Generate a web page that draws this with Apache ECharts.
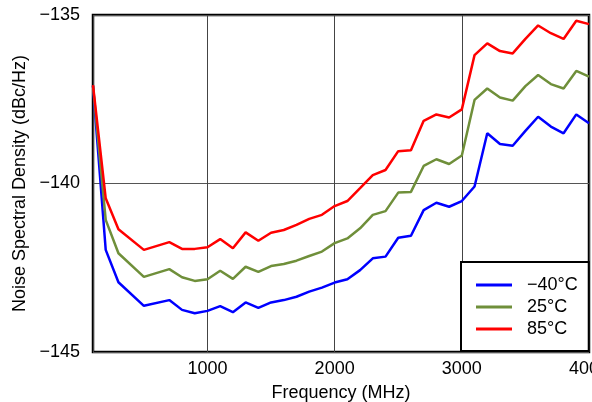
<!DOCTYPE html>
<html>
<head>
<meta charset="utf-8">
<script src="https://cdn.jsdelivr.net/npm/echarts@6/dist/echarts.min.js"></script>
<style>
html,body{margin:0;padding:0;background:#fff;}
#chart{width:592px;height:402px;}
</style>
</head>
<body>
<div id="chart"></div>
<script>
const freqMHz = [100,200,300,500,700,800,900,1000,1100,1200,1300,1400,1500,1600,1700,1800,1900,2000,2100,2200,2300,2400,2500,2600,2700,2800,2900,3000,3100,3200,3300,3400,3500,3600,3700,3800,3900,4000];
const seriesNames = ['\u221240\u00B0C', '25\u00B0C', '85\u00B0C'];
const noiseM40 = [-137.1,-141.97,-142.93,-143.63,-143.46,-143.75,-143.85,-143.78,-143.64,-143.82,-143.53,-143.69,-143.53,-143.46,-143.36,-143.21,-143.09,-142.94,-142.84,-142.57,-142.22,-142.17,-141.61,-141.55,-140.79,-140.57,-140.69,-140.52,-140.09,-138.51,-138.83,-138.88,-138.44,-138.02,-138.31,-138.51,-137.95,-138.21];
const noise25 = [-137.1,-141.08,-142.07,-142.77,-142.54,-142.78,-142.89,-142.84,-142.59,-142.83,-142.47,-142.62,-142.45,-142.39,-142.29,-142.15,-142.02,-141.77,-141.63,-141.33,-140.93,-140.82,-140.27,-140.25,-139.48,-139.28,-139.42,-139.17,-137.52,-137.18,-137.45,-137.54,-137.11,-136.78,-137.05,-137.18,-136.66,-136.83];
const noise85 = [-137.08,-140.44,-141.36,-141.97,-141.74,-141.94,-141.94,-141.89,-141.65,-141.92,-141.45,-141.70,-141.46,-141.38,-141.23,-141.05,-140.93,-140.67,-140.52,-140.14,-139.75,-139.60,-139.04,-139.01,-138.14,-137.95,-138.04,-137.80,-136.19,-135.84,-136.07,-136.14,-135.71,-135.31,-135.54,-135.71,-135.17,-135.27];
const xTicks = [1000, 2000, 3000, 4000];
const yTicks = [-145, -140, -135];
const xName = 'Frequency (MHz)';
const yName = 'Noise Spectral Density (dBc/Hz)';

const colors = ['#0000ff', '#6f8f3a', '#ff0000'];
const allData = [noiseM40, noise25, noise85];
const FONT = 'Liberation Sans, Arial, sans-serif';
const FS = 18;

const chart = echarts.init(document.getElementById('chart'), null, {renderer: 'canvas'});
chart.setOption({
  animation: false,
  backgroundColor: '#fff',
  grid: {
    left: 93, top: 15, right: 3, bottom: 50,
    containLabel: false, outerBoundsMode: 'none',
    show: true, borderColor: '#000', borderWidth: 2.5, backgroundColor: 'transparent'
  },
  xAxis: {
    type: 'value',
    min: 100, max: 4000,
    minInterval: 1000, maxInterval: 1000, splitNumber: 4,
    name: xName, nameLocation: 'middle', nameGap: 32,
    nameTextStyle: {fontFamily: FONT, fontSize: FS, color: '#000'},
    axisLine: {show: false},
    axisTick: {show: false},
    axisLabel: {
      showMinLabel: false, margin: 8, hideOverlap: false,
      fontFamily: FONT, fontSize: FS, color: '#000',
      formatter: v => xTicks.indexOf(v) >= 0 ? String(v) : ''
    },
    splitLine: {show: true, lineStyle: {color: '#444', width: 1}}
  },
  yAxis: {
    type: 'value',
    min: yTicks[0], max: yTicks[yTicks.length - 1], interval: 5,
    name: yName, nameLocation: 'middle', nameGap: 61, nameRotate: 90,
    nameTextStyle: {fontFamily: FONT, fontSize: FS, color: '#000'},
    axisLine: {show: false},
    axisTick: {show: false},
    axisLabel: {
      margin: 13, fontFamily: FONT, fontSize: FS, color: '#000',
      formatter: v => String(v).replace('-', '\u2212')
    },
    splitLine: {show: true, lineStyle: {color: '#555', width: 1}}
  },
  legend: {
    left: 461, top: 262,
    orient: 'vertical',
    data: seriesNames,
    icon: 'rect', itemWidth: 36, itemHeight: 3, itemGap: 4,
    padding: [14, 11, 13, 15],
    borderColor: '#000', borderWidth: 2, backgroundColor: '#fff',
    textStyle: {fontFamily: FONT, fontSize: FS, color: '#000', padding: [0, 0, 0, 10]}
  },
  series: seriesNames.map((n, i) => ({
    name: n,
    type: 'line',
    data: freqMHz.map((f, j) => [f, allData[i][j]]),
    showSymbol: false,
    symbol: 'none',
    lineStyle: {color: colors[i], width: 2.5},
    itemStyle: {color: colors[i]},
    z: 2 + i
  }))
});
</script>
</body>
</html>
